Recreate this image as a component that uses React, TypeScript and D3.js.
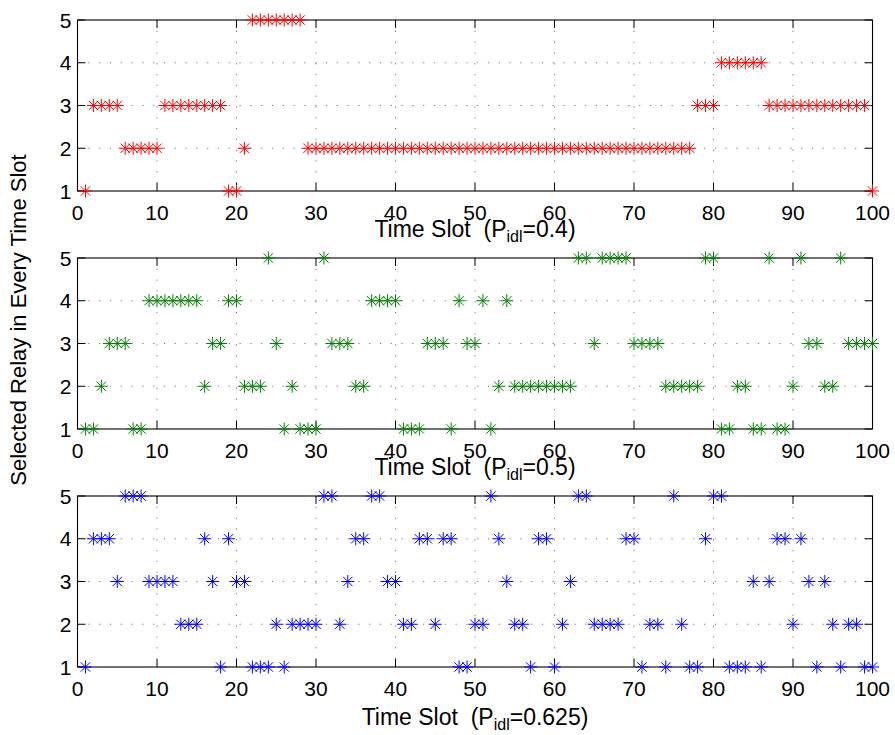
import React from "react";
import * as d3 from "d3";

// Selected relay per time slot (slots 1..100)
const relayP04 = [
  1, 3, 3, 3, 3, 2, 2, 2, 2, 2,
  3, 3, 3, 3, 3, 3, 3, 3, 1, 1,
  2, 5, 5, 5, 5, 5, 5, 5, 2, 2,
  2, 2, 2, 2, 2, 2, 2, 2, 2, 2,
  2, 2, 2, 2, 2, 2, 2, 2, 2, 2,
  2, 2, 2, 2, 2, 2, 2, 2, 2, 2,
  2, 2, 2, 2, 2, 2, 2, 2, 2, 2,
  2, 2, 2, 2, 2, 2, 2, 3, 3, 3,
  4, 4, 4, 4, 4, 4, 3, 3, 3, 3,
  3, 3, 3, 3, 3, 3, 3, 3, 3, 1,
];
const relayP05 = [
  1, 1, 2, 3, 3, 3, 1, 1, 4, 4,
  4, 4, 4, 4, 4, 2, 3, 3, 4, 4,
  2, 2, 2, 5, 3, 1, 2, 1, 1, 1,
  5, 3, 3, 3, 2, 2, 4, 4, 4, 4,
  1, 1, 1, 3, 3, 3, 1, 4, 3, 3,
  4, 1, 2, 4, 2, 2, 2, 2, 2, 2,
  2, 2, 5, 5, 3, 5, 5, 5, 5, 3,
  3, 3, 3, 2, 2, 2, 2, 2, 5, 5,
  1, 1, 2, 2, 1, 1, 5, 1, 1, 2,
  5, 3, 3, 2, 2, 5, 3, 3, 3, 3,
];
const relayP0625 = [
  1, 4, 4, 4, 3, 5, 5, 5, 3, 3,
  3, 3, 2, 2, 2, 4, 3, 1, 4, 3,
  3, 1, 1, 1, 2, 1, 2, 2, 2, 2,
  5, 5, 2, 3, 4, 4, 5, 5, 3, 3,
  2, 2, 4, 4, 2, 4, 4, 1, 1, 2,
  2, 5, 4, 3, 2, 2, 1, 4, 4, 1,
  2, 3, 5, 5, 2, 2, 2, 2, 4, 4,
  1, 2, 2, 1, 5, 2, 1, 1, 4, 5,
  5, 1, 1, 1, 3, 1, 3, 4, 4, 2,
  4, 3, 1, 3, 2, 1, 2, 2, 1, 1,
];

const xTicks = [0, 10, 20, 30, 40, 50, 60, 70, 80, 90, 100];
const yTicks = [1, 2, 3, 4, 5];
const pIdlLabels = ["0.4", "0.5", "0.625"];
const seriesColors = ["#ff0000", "#008000", "#0000ff"];
const yAxisTitle = "Selected Relay in Every Time Slot";

const W = 895;
const H = 735;
const LEFT = 77.5;
const RIGHT = 872.5;
const TOPS = [20, 258, 496];
const PH = 171;
const LABEL_BASE = [237, 475, 725];
const FONT = "'Liberation Sans', Arial, Helvetica, sans-serif";
const TICK = 8;

function Star({ x, y, color }: { x: number; y: number; color: string }) {
  const r = 6.5;
  const d = r * 0.72;
  return (
    <g stroke={color} strokeWidth={1}>
      <line x1={x - r} y1={y} x2={x + r} y2={y} />
      <line x1={x} y1={y - r} x2={x} y2={y + r} />
      <line x1={x - d} y1={y - d} x2={x + d} y2={y + d} />
      <line x1={x - d} y1={y + d} x2={x + d} y2={y - d} />
    </g>
  );
}

function Panel({ idx, values }: { idx: number; values: number[] }) {
  const top = TOPS[idx];
  const bottom = top + PH;
  const x = d3.scaleLinear().domain([0, 100]).range([LEFT, RIGHT]);
  const y = d3.scaleLinear().domain([1, 5]).range([bottom, top]);
  const color = seriesColors[idx];
  return (
    <g>
      {/* grid */}
      <g stroke="#555" strokeWidth={0.8} strokeDasharray="1.2,9.6">
        {xTicks.filter((t) => t > 0 && t < 100).map((t) => (
          <line key={"gx" + t} x1={x(t)} x2={x(t)} y1={top} y2={bottom} />
        ))}
        {yTicks.filter((t) => t > 1 && t < 5).map((t) => (
          <line key={"gy" + t} x1={LEFT} x2={RIGHT} y1={y(t)} y2={y(t)} />
        ))}
      </g>
      {/* ticks */}
      <g stroke="#000" strokeWidth={1}>
        {xTicks.map((t) => (
          <g key={"tx" + t}>
            <line x1={x(t)} x2={x(t)} y1={bottom} y2={bottom - TICK} />
            <line x1={x(t)} x2={x(t)} y1={top} y2={top + TICK} />
          </g>
        ))}
        {yTicks.map((t) => (
          <g key={"ty" + t}>
            <line x1={LEFT} x2={LEFT + TICK} y1={y(t)} y2={y(t)} />
            <line x1={RIGHT} x2={RIGHT - TICK} y1={y(t)} y2={y(t)} />
          </g>
        ))}
      </g>
      <rect x={LEFT} y={top} width={RIGHT - LEFT} height={PH} fill="none" stroke="#000" strokeWidth={1.1} />
      {/* tick labels */}
      <g fontFamily={FONT} fontSize={21} fill="#000">
        {xTicks.map((t) => (
          <text key={"lx" + t} x={x(t)} y={bottom + 29} textAnchor="middle">{t}</text>
        ))}
        {yTicks.map((t) => (
          <text key={"ly" + t} x={LEFT - 6} y={y(t) + 7.5} textAnchor="end">{t}</text>
        ))}
      </g>
      {/* markers */}
      {values.map((v, i) => (
        <Star key={i} x={x(i + 1)} y={y(v)} color={color} />
      ))}
      {/* x label */}
      <text x={(LEFT + RIGHT) / 2} y={LABEL_BASE[idx]} textAnchor="middle" fontFamily={FONT} fontSize={23} fill="#000">
        Time Slot{"\u00a0\u00a0"}(P
        <tspan fontSize={16} dy={5}>idl</tspan>
        <tspan dy={-5}>={pIdlLabels[idx]})</tspan>
      </text>
    </g>
  );
}

export default function App() {
  const all = [relayP04, relayP05, relayP0625];
  return (
    <svg
      width={W}
      height={H}
      style={{ position: "absolute", left: 0, top: 0, background: "#fff" }}
    >
      <rect x={0} y={0} width={W} height={H} fill="#fff" />
      {all.map((vals, i) => (
        <Panel key={i} idx={i} values={vals} />
      ))}
      <text
        transform={`translate(26, 320) rotate(-90)`}
        textAnchor="middle"
        fontFamily={FONT}
        fontSize={22}
        fill="#000"
      >
        {yAxisTitle}
      </text>
    </svg>
  );
}
